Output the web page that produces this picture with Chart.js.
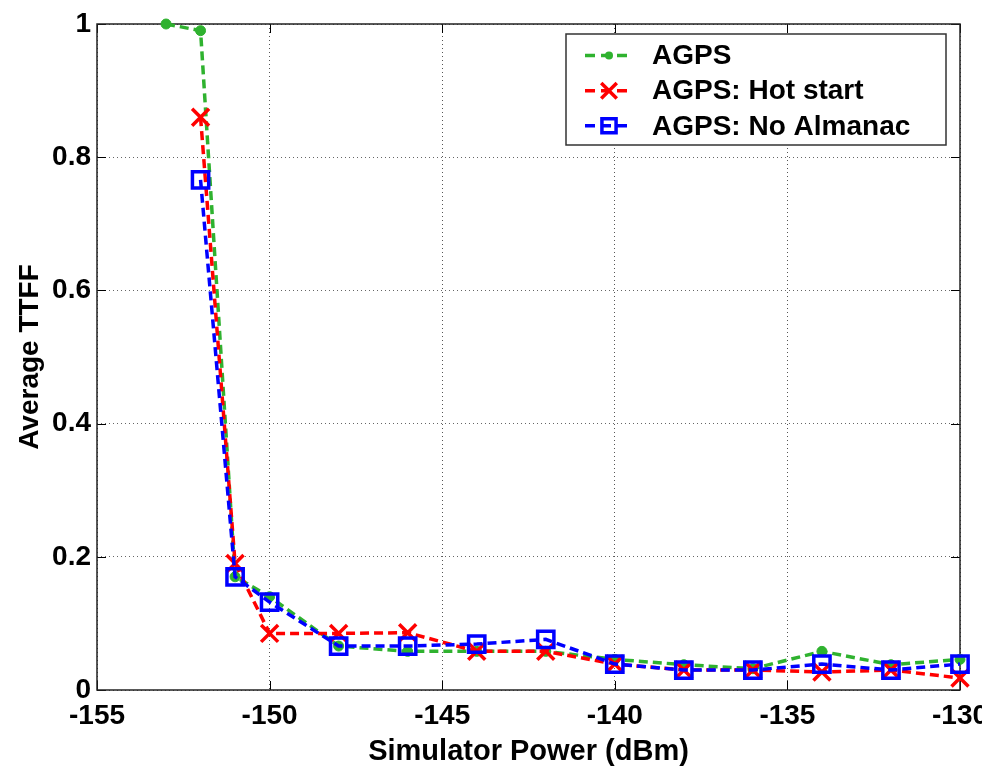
<!DOCTYPE html>
<html>
<head>
<meta charset="utf-8">
<script src="https://cdn.jsdelivr.net/npm/chart.js@4/dist/chart.umd.min.js"></script>
<style>
  html, body { margin: 0; padding: 0; background: #fff; }
  #wrap { width: 982px; height: 769px; }
</style>
</head>
<body>
<div id="wrap"><canvas id="c" width="982" height="769"></canvas></div>
<script>
// ---- data ----
const powerDbm = [-153, -152, -151, -150, -148, -146, -144, -142, -140, -138, -136, -134, -132, -130];
const agps      = [1.0, 0.99, 0.17, 0.14, 0.066, 0.058, 0.058, 0.058, 0.046, 0.038, 0.032, 0.058, 0.038, 0.046];
const hotStart  = [null, 0.86, 0.19, 0.085, 0.085, 0.086, 0.058, 0.058, 0.039, 0.030, 0.030, 0.027, 0.030, 0.018];
const noAlmanac = [null, 0.766, 0.17, 0.132, 0.066, 0.066, 0.069, 0.076, 0.039, 0.030, 0.030, 0.039, 0.030, 0.039];
const seriesNames = ['AGPS', 'AGPS: Hot start', 'AGPS: No Almanac'];
const xTickValues = [-155, -150, -145, -140, -135, -130];
const yTickValues = [0, 0.2, 0.4, 0.6, 0.8, 1];
const yTickLabels = ['0', '0.2', '0.4', '0.6', '0.8', '1'];

const FONT = "'Liberation Sans', Arial, sans-serif";
const GREEN = '#2fb22f', RED = '#ff0000', BLUE = '#0000ff';

function pts(arr) {
  return powerDbm.map((x, i) => ({ x: x, y: arr[i] })).filter(p => p.y !== null);
}

const datasets = [
  { label: seriesNames[0], data: pts(agps), borderColor: GREEN, backgroundColor: GREEN,
    borderWidth: 3.5, borderDash: [9, 5], pointStyle: 'circle', pointRadius: 5,
    pointBackgroundColor: GREEN, pointBorderColor: GREEN, pointBorderWidth: 1, order: 2 },
  { label: seriesNames[1], data: pts(hotStart), borderColor: RED, backgroundColor: RED,
    borderWidth: 3.5, borderDash: [9, 5], pointStyle: 'crossRot', pointRadius: 12,
    pointBorderColor: RED, pointBorderWidth: 3.5, order: 1 },
  { label: seriesNames[2], data: pts(noAlmanac), borderColor: BLUE, backgroundColor: 'rgba(0,0,0,0)',
    borderWidth: 3.5, borderDash: [9, 5], pointStyle: 'rect', pointRadius: 11.5,
    pointBackgroundColor: 'rgba(0,0,0,0)', pointBorderColor: BLUE, pointBorderWidth: 3.5, order: 0 }
];
datasets.forEach(d => { d.tension = 0; d.fill = false; d.clip = false; });

function drawMarker(ctx, style, x, y, r, color, lw) {
  ctx.save();
  ctx.strokeStyle = color; ctx.fillStyle = color; ctx.lineWidth = lw; ctx.setLineDash([]);
  ctx.beginPath();
  if (style === 'circle') {
    ctx.arc(x, y, r, 0, Math.PI * 2); ctx.fill();
  } else if (style === 'crossRot') {
    const o = r * Math.SQRT1_2;
    ctx.moveTo(x - o, y - o); ctx.lineTo(x + o, y + o);
    ctx.moveTo(x - o, y + o); ctx.lineTo(x + o, y - o); ctx.stroke();
  } else if (style === 'rect') {
    const s = r * Math.SQRT1_2;
    ctx.rect(x - s, y - s, 2 * s, 2 * s); ctx.stroke();
  }
  ctx.restore();
}

const boxPlugin = {
  id: 'matlabBox',
  beforeDatasetsDraw(chart) {
    const { ctx, chartArea: a, scales: { x, y } } = chart;
    ctx.save();
    ctx.setLineDash([]);
    ctx.strokeStyle = '#000';
    ctx.lineWidth = 1;
    const tl = 9;
    ctx.beginPath();
    xTickValues.forEach(v => {
      const px = Math.round(x.getPixelForValue(v)) + 0.5;
      ctx.moveTo(px, a.bottom); ctx.lineTo(px, a.bottom - tl);
      ctx.moveTo(px, a.top); ctx.lineTo(px, a.top + tl);
    });
    yTickValues.forEach(v => {
      const py = Math.round(y.getPixelForValue(v)) + 0.5;
      ctx.moveTo(a.left, py); ctx.lineTo(a.left + tl, py);
      ctx.moveTo(a.right, py); ctx.lineTo(a.right - tl, py);
    });
    ctx.stroke();
    ctx.lineWidth = 1.5;
    ctx.strokeStyle = '#222';
    ctx.strokeRect(a.left, a.top, a.right - a.left, a.bottom - a.top);
    ctx.restore();
  },
  afterDraw(chart) {
    const { ctx } = chart;
    const bx = 566, by = 34, bw = 380, bh = 111;
    ctx.save();
    ctx.fillStyle = '#fff';
    ctx.fillRect(bx, by, bw, bh);
    ctx.strokeStyle = '#333';
    ctx.lineWidth = 1.5;
    ctx.setLineDash([]);
    ctx.strokeRect(bx, by, bw, bh);
    const rows = [55.5, 90.7, 125.8];
    chart.data.datasets.forEach((d, i) => {
      const yy = rows[i];
      ctx.save();
      ctx.strokeStyle = d.borderColor;
      ctx.lineWidth = d.borderWidth;
      ctx.setLineDash([10, 6]);
      ctx.beginPath(); ctx.moveTo(585, yy); ctx.lineTo(633, yy); ctx.stroke();
      ctx.restore();
      const r = d.pointStyle === 'circle' ? 4 : (d.pointStyle === 'rect' ? 10 : 11);
      drawMarker(ctx, d.pointStyle, 609, yy, r, d.pointBorderColor, d.pointBorderWidth);
      ctx.fillStyle = '#000';
      ctx.font = 'bold 28px ' + FONT;
      ctx.textBaseline = 'middle';
      ctx.textAlign = 'left';
      ctx.fillText(d.label, 652, yy + 1);
    });
    ctx.restore();
  }
};

new Chart(document.getElementById('c'), {
  type: 'line',
  data: { datasets: datasets },
  plugins: [boxPlugin],
  options: {
    responsive: false,
    animation: false,
    layout: { padding: { top: 24, right: 22, left: 0, bottom: 0 } },
    plugins: { legend: { display: false }, tooltip: { enabled: false } },
    elements: { line: { tension: 0 } },
    scales: {
      x: {
        type: 'linear', min: -155, max: -130,
        afterFit(s) { s.height = 79; s.paddingLeft = 0; s.paddingRight = 0; },
        afterBuildTicks(s) { s.ticks = xTickValues.map(v => ({ value: v })); },
        ticks: { color: '#000', padding: 9, maxRotation: 0,
                 callback: (v) => String(v),
                 font: { family: FONT, size: 28, weight: 'bold' } },
        grid: { color: '#555', lineWidth: 1, drawTicks: false },
        border: { display: false, dash: [1, 3] },
        title: { display: true, text: 'Simulator Power (dBm)', color: '#000',
                 font: { family: FONT, size: 29, weight: 'bold' }, padding: { top: 0, bottom: 0 } }
      },
      y: {
        type: 'linear', min: 0, max: 1,
        afterFit(s) { s.width = 97; s.paddingTop = 0; s.paddingBottom = 0; },
        afterBuildTicks(s) { s.ticks = yTickValues.map(v => ({ value: v })); },
        ticks: { color: '#000', padding: 6,
                 callback: (v) => yTickLabels[yTickValues.indexOf(v)] ?? String(v),
                 font: { family: FONT, size: 28, weight: 'bold' } },
        grid: { color: '#666', lineWidth: 1, drawTicks: false },
        border: { display: false, dash: [1, 3] },
        title: { display: true, text: 'Average TTFF', color: '#000',
                 font: { family: FONT, size: 28, weight: 'bold' }, padding: { top: 13, bottom: 0 } }
      }
    }
  }
});
</script>
</body>
</html>
